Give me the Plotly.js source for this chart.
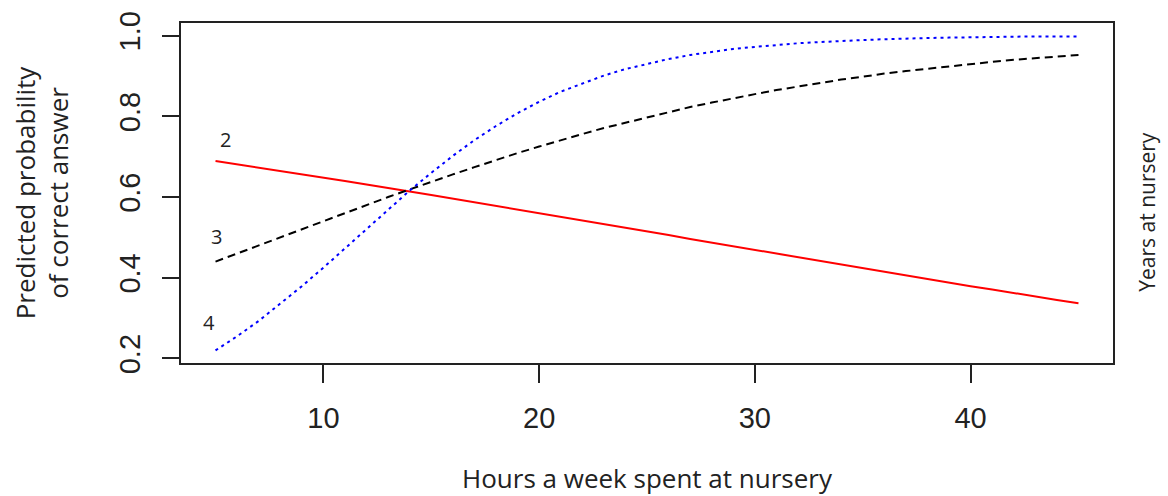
<!DOCTYPE html>
<html>
<head>
<meta charset="utf-8">
<script src="https://cdn.plot.ly/plotly-3.0.1.min.js"></script>
<style>
  html, body { margin: 0; padding: 0; background: #ffffff; }
  #chart { width: 1168px; height: 496px; }
</style>
</head>
<body>
<div id="chart"></div>
<script>
// Hours a week spent at nursery
const hours = [5, 6, 7, 8, 9, 10, 11, 12, 13, 14, 15, 16, 17, 18, 19, 20, 21, 22, 23, 24, 25,
               26, 27, 28, 29, 30, 31, 32, 33, 34, 35, 36, 37, 38, 39, 40, 41, 42, 43, 44, 45];

// Predicted probability of a correct answer, by years at nursery
const years2 = [0.689, 0.681, 0.673, 0.665, 0.657, 0.648, 0.640, 0.631, 0.623, 0.614, 0.605,
                0.596, 0.587, 0.579, 0.570, 0.560, 0.551, 0.542, 0.533, 0.524, 0.515,
                0.506, 0.496, 0.487, 0.478, 0.469, 0.460, 0.450, 0.441, 0.432, 0.423,
                0.414, 0.405, 0.397, 0.388, 0.379, 0.371, 0.362, 0.354, 0.345, 0.337];
const years3 = [0.440, 0.460, 0.480, 0.500, 0.520, 0.541, 0.560, 0.580, 0.600, 0.619, 0.638,
                0.656, 0.674, 0.692, 0.709, 0.725, 0.741, 0.756, 0.771, 0.784, 0.798,
                0.811, 0.823, 0.834, 0.845, 0.855, 0.865, 0.874, 0.883, 0.891, 0.898,
                0.906, 0.912, 0.918, 0.924, 0.930, 0.935, 0.940, 0.944, 0.948, 0.952];
const years4 = [0.220, 0.255, 0.293, 0.335, 0.379, 0.425, 0.473, 0.521, 0.569, 0.616, 0.660,
                0.702, 0.741, 0.776, 0.808, 0.836, 0.861, 0.882, 0.901, 0.917, 0.930,
                0.942, 0.952, 0.960, 0.967, 0.972, 0.977, 0.981, 0.984, 0.987, 0.989,
                0.991, 0.993, 0.994, 0.995, 0.996, 0.997, 0.997, 0.998, 0.998, 0.998];

// Curve labels and where they sit
const curveLabels = ['2', '3', '4'];
const labelX = [5.45, 5.04, 4.71];
const labelY = [0.742, 0.502, 0.289];

const xTicks = [10, 20, 30, 40];
const yTicks = [0.2, 0.4, 0.6, 0.8, 1.0];
const yTickText = ['0.2', '0.4', '0.6', '0.8', '1.0'];

const titleFont = { family: '"Open Sans", "Noto Sans", sans-serif', size: 26, color: '#222' };
const tickFont = { family: '"Liberation Sans", Arial, sans-serif', size: 29, color: '#222' };

const traces = [
  { x: hours, y: years2, mode: 'lines', name: '2',
    line: { color: '#ff0000', width: 2, dash: 'solid' } },
  { x: hours, y: years3, mode: 'lines', name: '3',
    line: { color: '#000000', width: 2, dash: '8px,5px' } },
  { x: hours, y: years4, mode: 'lines', name: '4',
    line: { color: '#0000ff', width: 2, dash: '3px,4px' } }
];

const annotations = curveLabels.map((t, i) => ({
  x: labelX[i], y: labelY[i], xref: 'x', yref: 'y', text: t, showarrow: false,
  font: { family: '"Open Sans", "Noto Sans", sans-serif', size: 20, color: '#222' }
}));

annotations.push({
  x: 1.0365, y: 0.445, xref: 'paper', yref: 'paper', text: 'Years at nursery',
  textangle: -90, showarrow: false, xanchor: 'center', yanchor: 'middle',
  font: { family: '"Open Sans", "Noto Sans", sans-serif', size: 21, color: '#222' }
});

const layout = {
  width: 1168, height: 496,
  margin: { l: 181, r: 55, t: 23, b: 133 },
  paper_bgcolor: '#ffffff', plot_bgcolor: '#ffffff',
  showlegend: false,
  xaxis: {
    range: [3.4, 46.6], tickvals: xTicks, ticktext: xTicks.map(String),
    ticks: 'outside', ticklen: 18, tickwidth: 2, tickcolor: '#222',
    showline: true, linecolor: '#222', linewidth: 2, mirror: true,
    showgrid: false, zeroline: false, tickfont: tickFont, ticklabelstandoff: 10,
    title: { text: 'Hours a week spent at nursery', font: titleFont, standoff: 41 }
  },
  yaxis: {
    range: [0.1888, 1.0312], tickvals: yTicks, ticktext: yTickText, tickangle: -90,
    ticks: 'outside', ticklen: 17, tickwidth: 2, tickcolor: '#222',
    showline: true, linecolor: '#222', linewidth: 2, mirror: true,
    showgrid: false, zeroline: false, tickfont: tickFont, ticklabelstandoff: 10,
    title: { text: 'Predicted probability<br>of correct answer', font: titleFont, standoff: 38 }
  },
  annotations: annotations
};

Plotly.newPlot('chart', traces, layout, { displayModeBar: false, staticPlot: true });
</script>
</body>
</html>
